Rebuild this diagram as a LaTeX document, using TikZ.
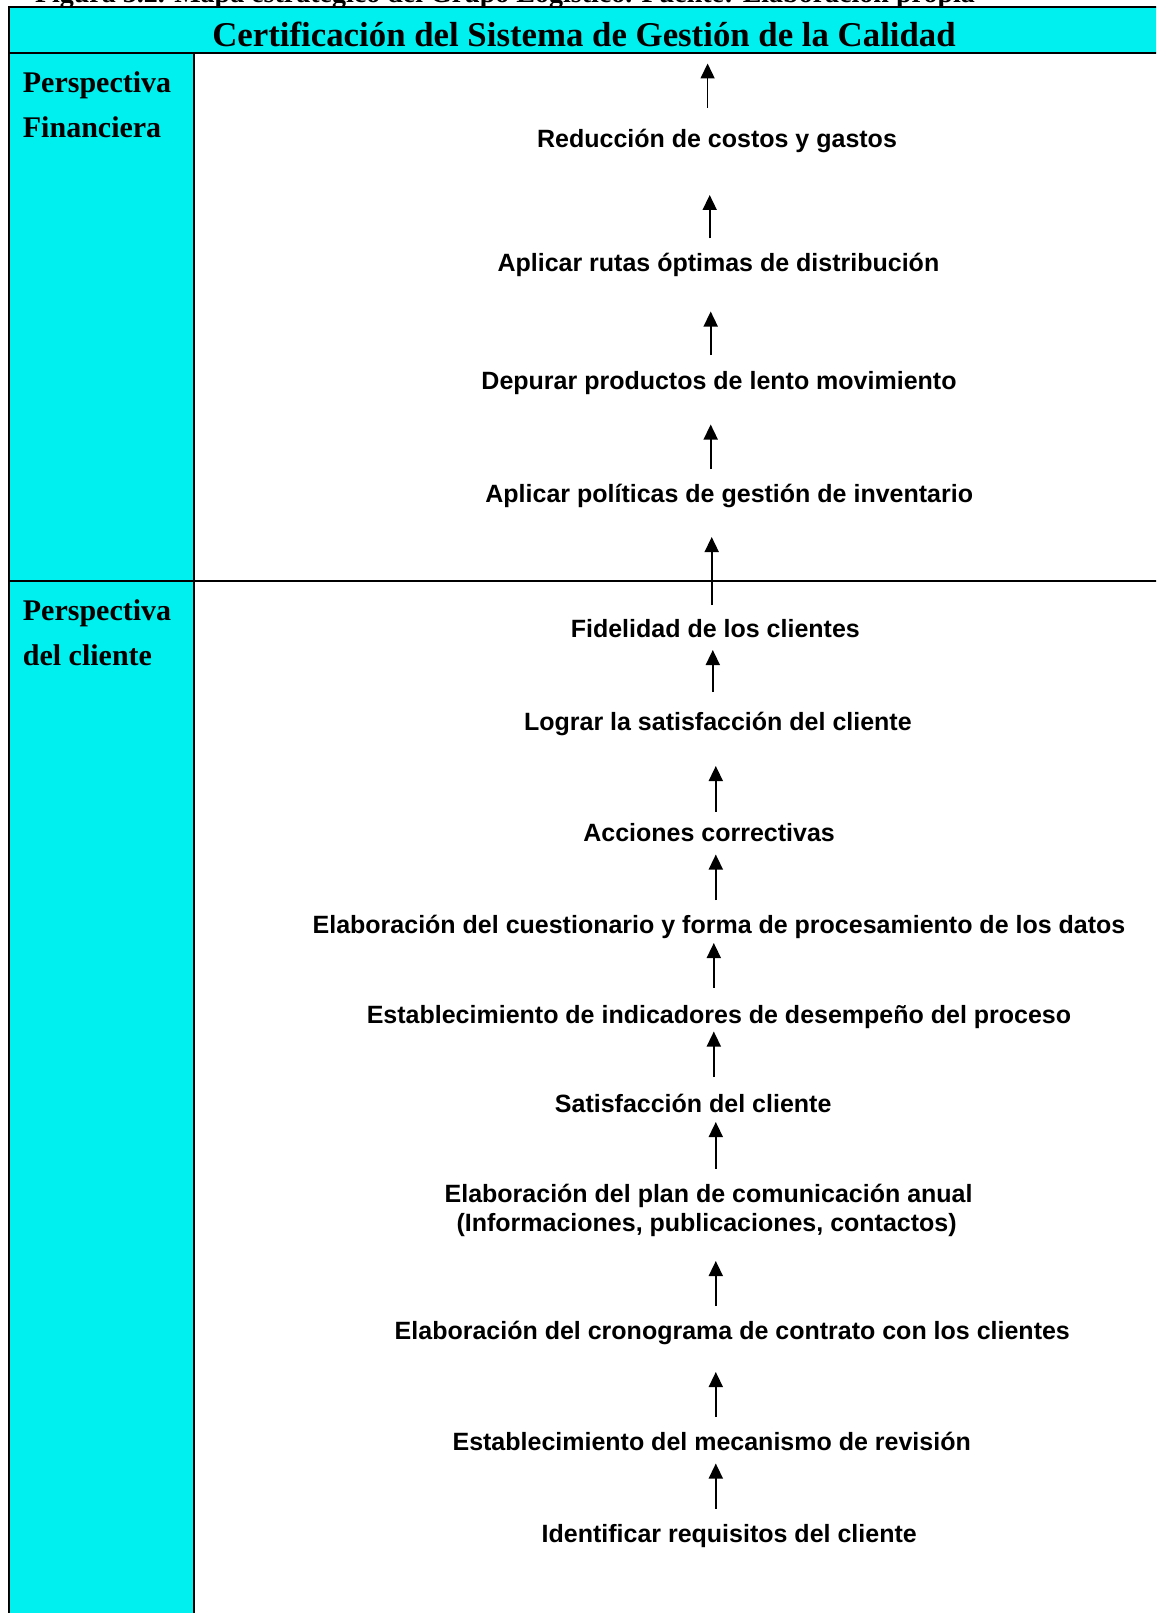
\documentclass[tikz,border=0pt]{standalone}
\usepackage{fontspec}
\setmainfont{Liberation Serif}
\newfontfamily\arialfont{Liberation Sans}
\usetikzlibrary{arrows.meta}
\definecolor{panelcyan}{RGB}{0,240,240}
\tikzset{
  grid/.style={line width=2.2pt, draw=black},
  arr/.style={line width=1.6pt, -{Triangle[width=14pt,length=15pt]}},
  item/.style={anchor=base, inner sep=0pt, font=\arialfont\bfseries\fontsize{25}{29}\selectfont},
  perspective/.style={anchor=base west, inner sep=0pt, font=\bfseries\fontsize{30}{36}\selectfont},
  titletext/.style={anchor=base, inner sep=0pt, font=\bfseries\fontsize{34.8}{40}\selectfont},
}
\begin{document}
\begin{tikzpicture}[x=1pt, y=-1pt]
\useasboundingbox (0,0) rectangle (1156,1613);
\clip (0,0) rectangle (1156,1613);
\fill[white] (0,0) rectangle (1156,1613);

% caption line above the table
\node[anchor=base east, inner sep=0pt, font=\bfseries\fontsize{28}{32}\selectfont] (caption) at (975,2.5)
  {Figura 3.2. Mapa estratégico del Grupo Logístico. Fuente: Elaboración propia};

% coloured cells
\fill[panelcyan] (9,7) rectangle (1162,53);
\fill[panelcyan] (9,53) rectangle (194,1625);

% table rules
\draw[grid] (9,1625) -- (9,7) -- (1162,7);
\draw[grid] (9,53) -- (1162,53);
\draw[grid] (194,53) -- (194,1625);
\draw[grid] (9,581) -- (1162,581);

% header
\node[titletext] (title) at (584,47) {Certificación del Sistema de Gestión de la Calidad};

% perspectives
\node[perspective] (pf1) at (22.7,93) {Perspectiva};
\node[perspective] (pf2) at (22.7,138) {Financiera};
\node[perspective] (pc1) at (22.7,620) {Perspectiva};
\node[perspective] (pc2) at (22.7,665) {del cliente};

% objectives
\node[item] (t1)  at (717,148)   {Reducción de costos y gastos};
\node[item] (t2)  at (718.4,272) {Aplicar rutas óptimas de distribución};
\node[item] (t3)  at (719,389.5) {Depurar productos de lento movimiento};
\node[item] (t4)  at (729.2,502) {Aplicar políticas de gestión de inventario};
\node[item] (t5)  at (715.3,637) {Fidelidad de los clientes};
\node[item] (t6)  at (717.9,730) {Lograr la satisfacción del cliente};
\node[item] (t7)  at (709.1,841) {Acciones correctivas};
\node[item] (t8)  at (719,933.5) {Elaboración del cuestionario y forma de procesamiento de los datos};
\node[item] (t9)  at (719,1023)  {Establecimiento de indicadores de desempeño del proceso};
\node[item] (t10) at (693.2,1112.5) {Satisfacción del cliente};
\node[item] (t11a) at (708.6,1202) {Elaboración del plan de comunicación anual};
\node[item] (t11b) at (706.6,1231) {(Informaciones, publicaciones, contactos)};
\node[item] (t12) at (732.3,1339) {Elaboración del cronograma de contrato con los clientes};
\node[item] (t13) at (711.7,1450) {Establecimiento del mecanismo de revisión};
\node[item] (t14) at (729.2,1542.5) {Identificar requisitos del cliente};

% arrow end points
\coordinate (a1s) at (707.6,108);   \coordinate (a1e) at (707.6,63.5);
\coordinate (a2s) at (709.7,238.5); \coordinate (a2e) at (709.7,195);
\coordinate (a3s) at (710.7,355);   \coordinate (a3e) at (710.7,311.5);
\coordinate (a4s) at (710.7,469);   \coordinate (a4e) at (710.7,424.5);
\coordinate (a5s) at (711.7,605);   \coordinate (a5e) at (711.7,537);
\coordinate (a6s) at (712.8,692);   \coordinate (a6e) at (712.8,650);
\coordinate (a7s) at (715.8,811.5); \coordinate (a7e) at (715.8,766);
\coordinate (a8s) at (715.8,900);   \coordinate (a8e) at (715.8,854.5);
\coordinate (a9s) at (713.8,987.5); \coordinate (a9e) at (713.8,943);
\coordinate (a10s) at (713.8,1077); \coordinate (a10e) at (713.8,1031.5);
\coordinate (a11s) at (715.8,1168.5); \coordinate (a11e) at (715.8,1122);
\coordinate (a12s) at (715.8,1306); \coordinate (a12e) at (715.8,1261);
\coordinate (a13s) at (715.8,1417); \coordinate (a13e) at (715.8,1372);
\coordinate (a14s) at (715.8,1508.5); \coordinate (a14e) at (715.8,1463.5);

\foreach \k in {1,...,14} {
  \draw[arr] (a\k s) -- (a\k e);
}
\end{tikzpicture}
\end{document}
